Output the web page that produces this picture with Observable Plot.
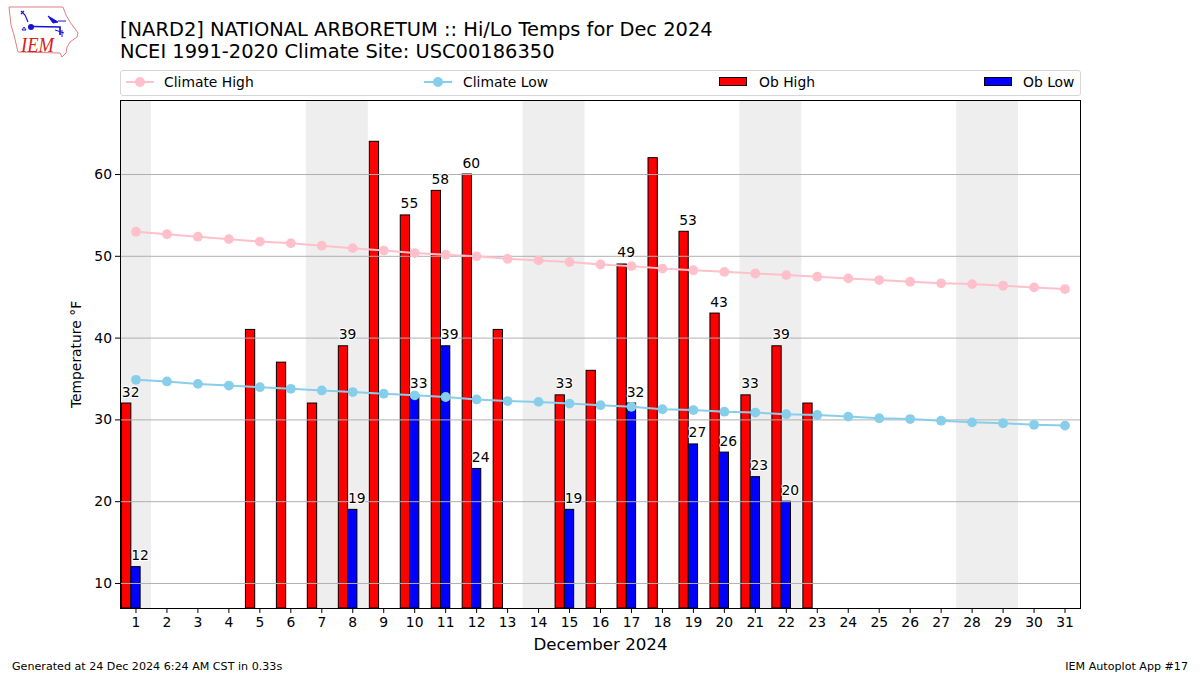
<!DOCTYPE html>
<html>
<head>
<meta charset="utf-8">
<script src="https://cdn.jsdelivr.net/npm/d3@7"></script>
<script src="https://cdn.jsdelivr.net/npm/@observablehq/plot@0.6"></script>
<style>
  html, body { margin: 0; padding: 0; background: #fff; }
  body { width: 1200px; height: 675px; position: relative; overflow: hidden; font-family: "DejaVu Sans", sans-serif; color: #000; }
  #chart { position: absolute; left: 0; top: 0; }
  #title { position: absolute; left: 120px; top: 18.5px; font-size: 19.44px; line-height: 22px; white-space: nowrap; }
  .foot { position: absolute; top: 660px; font-size: 11.12px; line-height: 13px; white-space: nowrap; }
  #legend { position: absolute; left: 120px; top: 70px; width: 959px; height: 24px; border: 1px solid #d6d6d6; border-radius: 3px; background: #fff; }
  .item { position: absolute; top: 0; height: 24px; line-height: 22px; font-size: 13.89px; white-space: nowrap; }
  .swatch { position: absolute; top: 5px; width: 28px; height: 14px; }
  .swatch.line::before { content: ""; position: absolute; left: 0; right: 0; top: 5px; height: 2px; }
  .swatch.line::after { content: ""; position: absolute; left: 9px; top: 1px; width: 10px; height: 10px; border-radius: 50%; }
  .swatch.hi::before, .swatch.hi::after { background: pink; }
  .swatch.lo::before, .swatch.lo::after { background: skyblue; }
  .swatch.box { top: 6px; height: 9px; border: 1px solid #000; box-sizing: border-box; }
  #logo { position: absolute; left: 0; top: 0; }
</style>
</head>
<body>
<div id="chart"></div>
<svg id="logo" width="90" height="65" viewBox="0 0 90 65">
  <path d="M9 7 L63 7 L66 15 L70 22 L78 33 L77 37 L70 42 L67 47 L66 53 L62 57 L60 53 L18 52 L14 35 L11 25 Z" fill="none" stroke="#e08080" stroke-width="1"/>
  <path d="M21 11 L25 15 L28 22 M21 14 L24 11" fill="none" stroke="#1414d8" stroke-width="1.2"/>
  <circle cx="31" cy="27" r="3" fill="#1414d8"/>
  <path d="M33 26.500 L60 27 L60 35" fill="none" stroke="#1414d8" stroke-width="1.7"/>
  <path d="M48 16 L58 22 L53 23 Z" fill="#1414d8" stroke="#1414d8" stroke-width="1"/>
  <path d="M58 21 L66 21 M55 30 L64 33 M62 30 L62 37 M24 27 L26 30 L22 30 Z" fill="none" stroke="#1414d8" stroke-width="1"/>
  <text x="21" y="52" font-family="Liberation Serif" font-style="italic" font-size="21" textLength="33" lengthAdjust="spacingAndGlyphs" fill="#d82020">IEM</text>
</svg>
<div id="title"></div>
<div id="legend"></div>
<div class="foot" id="footL" style="left:12px"></div>
<div class="foot" id="footR" style="right:12px"></div>
<script>
const titleLines = ["[NARD2] NATIONAL ARBORETUM :: Hi/Lo Temps for Dec 2024", "NCEI 1991-2020 Climate Site: USC00186350"];
const footerLeft = "Generated at 24 Dec 2024 6:24 AM CST in 0.33s";
const footerRight = "IEM Autoplot App #17";
const xLabel = "December 2024";
const yLabel = "Temperature \u00b0F";

const days = d3.range(1, 32);
const climateHigh = [53, 52.7, 52.4, 52.1, 51.8, 51.6, 51.3, 51, 50.7, 50.4, 50.2, 50, 49.7, 49.5, 49.3, 49, 48.8, 48.5, 48.3, 48.1, 47.9, 47.7, 47.5, 47.3, 47.1, 46.9, 46.7, 46.6, 46.4, 46.2, 46];
const climateLow = [34.9, 34.7, 34.4, 34.2, 34, 33.8, 33.6, 33.4, 33.2, 33, 32.8, 32.5, 32.3, 32.2, 32, 31.8, 31.6, 31.3, 31.2, 31, 30.9, 30.7, 30.6, 30.4, 30.2, 30.1, 29.9, 29.7, 29.6, 29.4, 29.3];
const highDays = [1, 5, 6, 7, 8, 9, 10, 11, 12, 13, 15, 16, 17, 18, 19, 20, 21, 22, 23];
const highTemps = [32, 41, 37, 32, 39, 64, 55, 58, 60, 41, 33, 36, 49, 62, 53, 43, 33, 39, 32];
const lowDays = [1, 8, 10, 11, 12, 15, 17, 19, 20, 21, 22];
const lowTemps = [12, 19, 33, 39, 24, 19, 32, 27, 26, 23, 20];
const weekendStarts = [0.5, 6.5, 13.5, 20.5, 27.5];
const weekendEnds = [1.5, 8.5, 15.5, 22.5, 29.5];
const yTicks = [10, 20, 30, 40, 50, 60];

const highs = highDays.map((d, i) => ({day: d, t: highTemps[i]}));
const lows = lowDays.map((d, i) => ({day: d, t: lowTemps[i]}));
const highLabels = highs.filter(h => lowDays.includes(h.day));
const hiClimate = days.map((d, i) => ({day: d, t: climateHigh[i]}));
const loClimate = days.map((d, i) => ({day: d, t: climateLow[i]}));
const bands = weekendStarts.map((s, i) => ({s, e: weekendEnds[i]}));

const yMin = 6.94, yMax = 69.05;

const labelOpts = {
  y: "t", text: d => String(d.t), fontSize: 13.89, fill: "#000",
  stroke: "#fff", strokeWidth: 2, paintOrder: "stroke",
  lineAnchor: "bottom", dx: 4, dy: -7, textAnchor: "middle"
};

const plot = Plot.plot({
  width: 1200, height: 675,
  marginLeft: 120, marginRight: 120, marginTop: 100, marginBottom: 67,
  style: {fontFamily: "'DejaVu Sans', sans-serif", fontSize: "13.89px", background: "transparent", color: "#000"},
  x: {domain: [0.5, 31.5]},
  y: {domain: [yMin, yMax]},
  marks: [
    Plot.rect(bands, {x1: "s", x2: "e", y1: yMin, y2: yMax, fill: "#eeeeee"}),
    Plot.rect(highs, {x1: d => d.day - 0.45, x2: d => d.day - 0.15, y1: yMin, y2: "t", fill: "#ff0000", stroke: "#000", strokeWidth: 1, inset: 0}),
    Plot.rect(lows, {x1: d => d.day - 0.15, x2: d => d.day + 0.15, y1: yMin, y2: "t", fill: "#0000ff", stroke: "#000", strokeWidth: 1, inset: 0}),
    Plot.ruleY(yTicks, {stroke: "#b0b0b0", strokeWidth: 1}),
    Plot.line(hiClimate, {x: "day", y: "t", stroke: "pink", strokeWidth: 2, curve: "linear"}),
    Plot.dot(hiClimate, {x: "day", y: "t", fill: "pink", r: 4.9}),
    Plot.line(loClimate, {x: "day", y: "t", stroke: "skyblue", strokeWidth: 2, curve: "linear"}),
    Plot.dot(loClimate, {x: "day", y: "t", fill: "skyblue", r: 4.9}),
    Plot.text(highLabels, {...labelOpts, x: d => d.day - 0.3}),
    Plot.text(lows, {...labelOpts, x: "day"}),
    Plot.frame({stroke: "#000", strokeWidth: 1}),
    Plot.axisX({ticks: days, tickFormat: d => String(d), tickSize: 5, tickPadding: 3.5, label: null, fontSize: 13.89}),
    Plot.axisY({ticks: yTicks, tickSize: 5, tickPadding: 3.5, label: null, fontSize: 13.89}),
    Plot.text([xLabel], {frameAnchor: "bottom", dy: 36 + 5, fontSize: 16.67, fill: "#000"}),
    Plot.text([yLabel], {frameAnchor: "left", textAnchor: "middle", rotate: -90, dx: -44, fontSize: 13.89, fill: "#000"})
  ]
});
document.getElementById("chart").appendChild(plot);

document.getElementById("title").innerHTML = titleLines.map(t => `<div>${t}</div>`).join("");
document.getElementById("footL").textContent = footerLeft;
document.getElementById("footR").textContent = footerRight;

const legendItems = [
  {label: "Climate High", cls: "line hi", sx: 5, tx: 43},
  {label: "Climate Low", cls: "line lo", sx: 303, tx: 342},
  {label: "Ob High", cls: "box", color: "#ff0000", sx: 598, tx: 638},
  {label: "Ob Low", cls: "box", color: "#0000ff", sx: 863, tx: 902}
];
const legend = document.getElementById("legend");
for (const it of legendItems) {
  const s = document.createElement("div");
  s.className = "swatch " + it.cls;
  s.style.left = it.sx + "px";
  if (it.color) s.style.background = it.color;
  legend.appendChild(s);
  const t = document.createElement("div");
  t.className = "item";
  t.style.left = it.tx + "px";
  t.textContent = it.label;
  legend.appendChild(t);
}
</script>
</body>
</html>
